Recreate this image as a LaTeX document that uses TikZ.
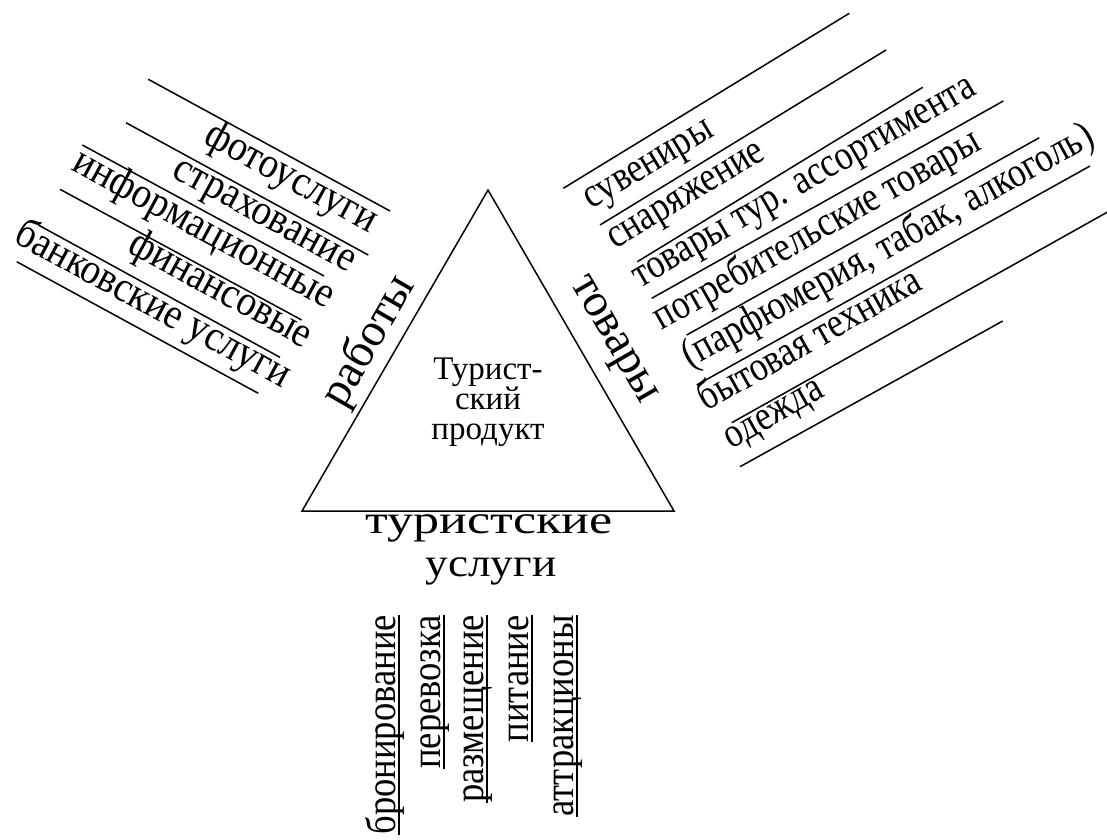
\documentclass[tikz,border=0pt]{standalone}
\usepackage{fontspec}
\setmainfont{Liberation Serif}
\newfontfamily\leftfont[FakeStretch=0.9]{Liberation Serif}
\newfontfamily\listfont[FakeStretch=0.87]{Liberation Serif}
\newfontfamily\rightfont[FakeStretch=0.84]{Liberation Serif}
\begin{document}
\begin{tikzpicture}[x=1pt,y=-1pt,
  rule/.style={line width=1.5pt},
  leftitem/.style={inner sep=0pt,font=\leftfont\fontsize{43}{43}\selectfont,anchor=base east,rotate=-28.5},
  rightitem/.style={inner sep=0pt,font=\rightfont\fontsize{42}{42}\selectfont,anchor=base west},
  downitem/.style={inner sep=0pt,font=\listfont\fontsize{42}{42}\selectfont,anchor=base east,rotate=90},
  biglabel/.style={inner sep=0pt,font=\fontsize{47}{47}\selectfont},
  botlabel/.style={inner sep=0pt,font=\fontsize{40}{40}\selectfont,anchor=base},
  under/.style={rule}]
\useasboundingbox (0,0) rectangle (1107,839);
% triangle
\coordinate (apex) at (488,190);
\coordinate (bl) at (302,511);
\coordinate (br) at (674,511);
\draw[rule,line join=miter] (apex) -- (br) -- (bl) -- cycle;
\node[inner sep=0pt,align=center,font=\fontsize{33}{29.5}\selectfont] (prod) at (488,402) {Турист-\\ский\\продукт};
% side labels
\node[biglabel,rotate=60] (rab) at (369,341.5) {работы};
\node[biglabel,rotate=-60] (tov) at (611,341) {товары};
\node[botlabel,xscale=1.3] (tur1) at (489,533.3) {туристские};
\node[botlabel,xscale=1.13] (tur2) at (491,576.7) {услуги};
% left rules
\draw[rule] (148.3,79.3) -- (390,211);
\draw[rule] (126,122.7) -- (368.3,255);
\draw[rule] (82.3,145) -- (324,276);
\draw[rule] (60,189.3) -- (301.7,320);
\draw[rule] (38.3,225) -- (280,357.3);
\draw[rule] (16.7,261.7) -- (258.3,393.3);
% left items
\node[leftitem] (l1) at (369.5,233.3) {фотоуслуги};
\node[leftitem] (l2) at (348.3,272.5) {страхование};
\node[leftitem] (l3) at (326.7,308.8) {информационные};
\node[leftitem] (l4) at (304.2,348.3) {финансовые};
\node[leftitem] (l5) at (282.5,388.3) {банковские услуги};
% right rules
\draw[rule] (563.3,188.3) -- (849.3,13.3);
\draw[rule] (600,225) -- (886,50);
\draw[rule] (637.3,261.7) -- (922.7,87.3);
\draw[rule] (651.7,298.3) -- (1003.3,101);
\draw[rule] (686.7,335) -- (1039.3,137.7);
\draw[rule] (696.7,385) -- (1090,166);
\draw[rule] (731.7,422.7) -- (1107,212.3);
\draw[rule] (740,466.7) -- (1002.7,321);
% right items
\node[rightitem,rotate=31] (r1) at (591.7,210) {сувениры};
\node[rightitem,rotate=31] (r2) at (615,249.3) {снаряжение};
\node[rightitem,rotate=30] (r3) at (640,288.3) {товары тур. ассортимента};
\node[rightitem,rotate=29.5] (r4) at (661.7,331) {потребительские товары};
\node[rightitem,rotate=29] (r5) at (690.5,368.7) {(парфюмерия, табак, алкоголь)};
\node[rightitem,rotate=29.5] (r6) at (706.7,411.7) {бытовая техника};
\node[rightitem,rotate=29.5] (r7) at (731.7,449.3) {одежда};
% bottom items
\node[downitem] (b1) at (395,615) {бронирование};
\node[downitem] (b2) at (440,615) {перевозка};
\node[downitem] (b3) at (483,615) {размещение};
\node[downitem] (b4) at (528,615) {питание};
\node[downitem] (b5) at (573,615) {аттракционы};
\foreach \n in {b1,b2,b3,b4,b5}
  \draw[under] ([xshift=4pt]\n.base east) -- ([xshift=4pt]\n.base west);
\end{tikzpicture}
\end{document}
